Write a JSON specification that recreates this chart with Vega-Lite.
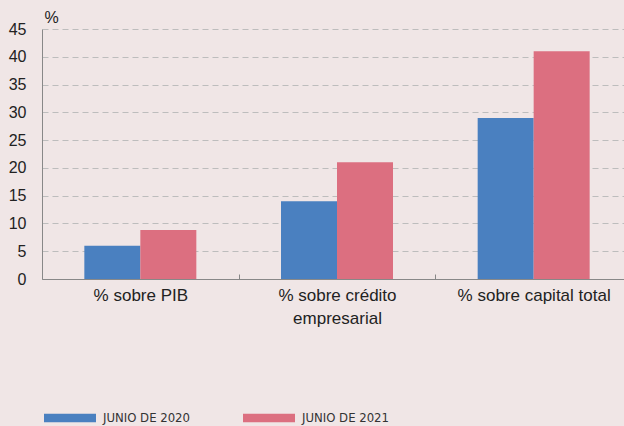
{
  "$schema": "https://vega.github.io/schema/vega-lite/v6.json",
  "autosize": {"type": "none"},
  "padding": {"left": 42, "top": 29, "right": 0, "bottom": 147},
  "width": 582,
  "height": 250,
  "background": "#f0e6e6",
  "config": {
    "view": {"stroke": null},
    "font": "Liberation Sans"
  },
  "data": {
    "values": [
      {"cat": "% sobre PIB", "serie": "JUNIO DE 2020", "valor": 6},
      {"cat": "% sobre PIB", "serie": "JUNIO DE 2021", "valor": 8.8},
      {"cat": "% sobre crédito empresarial", "serie": "JUNIO DE 2020", "valor": 14},
      {"cat": "% sobre crédito empresarial", "serie": "JUNIO DE 2021", "valor": 21},
      {"cat": "% sobre capital total", "serie": "JUNIO DE 2020", "valor": 29},
      {"cat": "% sobre capital total", "serie": "JUNIO DE 2021", "valor": 41}
    ]
  },
  "mark": {"type": "bar"},
  "encoding": {
    "x": {
      "field": "cat",
      "type": "nominal",
      "sort": null,
      "scale": {"paddingInner": 0, "paddingOuter": 0, "range": [0, 590]},
      "axis": {
        "title": null,
        "labelAngle": 0,
        "labelFontSize": 17,
        "labelColor": "#222",
        "labelPadding": 13,
        "labelLineHeight": 23,
        "labelBaseline": "top",
        "labelExpr": "datum.label == '% sobre crédito empresarial' ? ['% sobre crédito', 'empresarial'] : datum.label",
        "tickBand": "extent",
        "tickSize": -5,
        "tickColor": "#888",
        "domainColor": "#888",
        "grid": false
      }
    },
    "xOffset": {
      "field": "serie",
      "type": "nominal",
      "scale": {"paddingOuter": 0.756, "paddingInner": 0}
    },
    "y": {
      "field": "valor",
      "type": "quantitative",
      "scale": {"domain": [0, 45]},
      "axis": {
        "title": "%",
        "titleAngle": 0,
        "titleAlign": "left",
        "titleBaseline": "middle",
        "titleX": 2,
        "titleY": -12,
        "titleFontSize": 16,
        "titleFontWeight": "normal",
        "titleColor": "#222",
        "values": [0, 5, 10, 15, 20, 25, 30, 35, 40, 45],
        "labelFontSize": 16,
        "labelColor": "#222",
        "labelPadding": 16,
        "ticks": false,
        "domainColor": "#888",
        "gridColor": "#bdbdbd",
        "gridDash": [6, 4],
        "gridWidth": 1
      }
    },
    "color": {
      "field": "serie",
      "type": "nominal",
      "scale": {"range": ["#4a80c0", "#dc6f80"]},
      "legend": {
        "title": null,
        "orient": "none",
        "direction": "horizontal",
        "legendX": 2,
        "legendY": 363,
        "symbolType": "M-1,-0.16H1V0.16H-1Z",
        "symbolSize": 2704,
        "symbolStrokeWidth": 0,
        "labelFont": "DejaVu Sans Condensed, Liberation Sans",
        "labelFontSize": 13,
        "labelColor": "#333",
        "labelOffset": 7,
        "columnPadding": 53
      }
    }
  }
}
